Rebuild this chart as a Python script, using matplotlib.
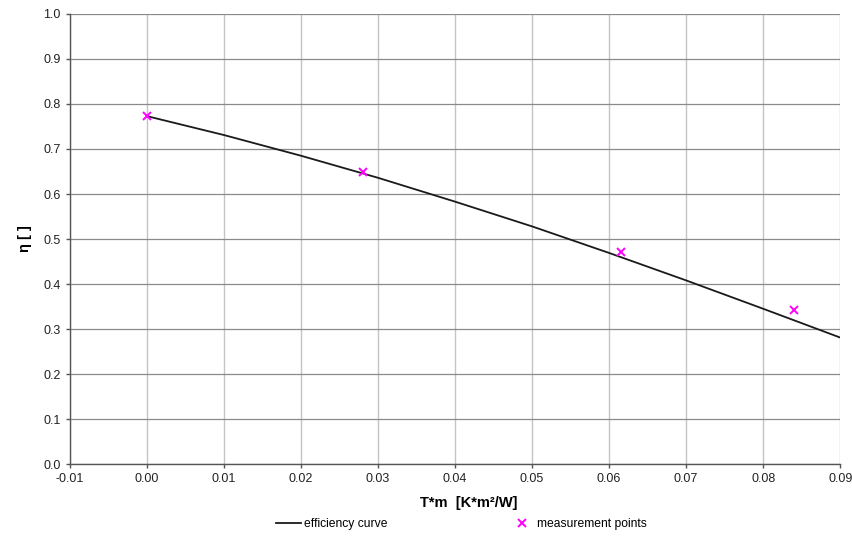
import matplotlib
matplotlib.use("Agg")
import matplotlib.pyplot as plt

plt.rcParams['font.family'] = ['Liberation Sans', 'DejaVu Sans']

# Efficiency curve
curve_x = [0.00, 0.01, 0.02, 0.03, 0.04, 0.05, 0.06, 0.07, 0.08, 0.09]
curve_y = [0.773, 0.731, 0.685, 0.636, 0.583, 0.528, 0.469, 0.408, 0.345, 0.281]

# Measurement points
meas_x = [0.0, 0.0281, 0.0615, 0.084]
meas_y = [0.773, 0.649, 0.472, 0.342]

x_ticks = [-0.01, 0.00, 0.01, 0.02, 0.03, 0.04, 0.05, 0.06, 0.07, 0.08, 0.09]
x_ticklabels = ["-0.01", "0.00", "0.01", "0.02", "0.03", "0.04", "0.05", "0.06", "0.07", "0.08", "0.09"]
y_ticks = [0.0, 0.1, 0.2, 0.3, 0.4, 0.5, 0.6, 0.7, 0.8, 0.9, 1.0]
y_ticklabels = ["0.0", "0.1", "0.2", "0.3", "0.4", "0.5", "0.6", "0.7", "0.8", "0.9", "1.0"]

fig = plt.figure(figsize=(8.53, 5.38), dpi=100)
ax = fig.add_axes([0.082, 0.1375, 0.903, 0.8365])

ax.set_xlim(-0.01, 0.09)
ax.set_ylim(0.0, 1.0)
ax.set_xticks(x_ticks)
ax.set_xticklabels(x_ticklabels)
ax.set_yticks(y_ticks)
ax.set_yticklabels(y_ticklabels)

ax.xaxis.grid(True, color='#c4c4c4', linewidth=1.0)
ax.yaxis.grid(True, color='#8a8a8a', linewidth=0.9)
ax.set_axisbelow(True)

for s in ['top', 'right']:
    ax.spines[s].set_visible(False)
for s in ['left', 'bottom']:
    ax.spines[s].set_color('#555555')
    ax.spines[s].set_linewidth(1.0)
ax.tick_params(axis='both', colors='#555555', labelcolor='#222222', labelsize=9, length=3, width=1.0, direction='out')

ln, = ax.plot(curve_x, curve_y, color='#1a1a1a', linewidth=1.3, label='efficiency curve', zorder=3)
sc, = ax.plot(meas_x, meas_y, linestyle='none', marker='x', color='#ff00ff', markersize=5.5,
              markeredgewidth=1.4, label='measurement points', zorder=4)

ax.set_xlabel('T*m  [K*m²/W]', fontsize=10.5, fontweight='bold', labelpad=8)
ax.xaxis.label.set_x(0.518)
ax.set_ylabel('η [ ]', fontsize=10.5, fontweight='bold', labelpad=8)

fig.legend(handles=[ln, sc], loc='center', bbox_to_anchor=(0.541, 0.026), ncol=2,
           frameon=False, fontsize=8.7, columnspacing=10.1, handlelength=2.07, handletextpad=0.25)

fig.savefig('out.png', dpi=100)
